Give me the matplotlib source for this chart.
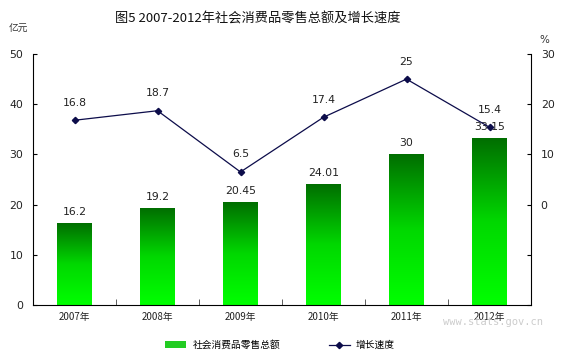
import matplotlib
matplotlib.use("Agg")
import matplotlib.pyplot as plt
import numpy as np
from matplotlib.colors import LinearSegmentedColormap
from matplotlib.lines import Line2D
from matplotlib.patches import Rectangle

plt.rcParams['font.family'] = ['Noto Sans CJK SC', 'DejaVu Sans']

years = ['2007年', '2008年', '2009年', '2010年', '2011年', '2012年']
sales = [16.2, 19.2, 20.45, 24.01, 30, 33.15]
sales_labels = ['16.2', '19.2', '20.45', '24.01', '30', '33.15']
growth = [16.8, 18.7, 6.5, 17.4, 25, 15.4]
growth_labels = ['16.8', '18.7', '6.5', '17.4', '25', '15.4']

W, H = 566, 363
fig = plt.figure(figsize=(W / 100, H / 100), dpi=100)
ax_l, ax_r, ax_t, ax_b = 33, 531, 54, 305
ax = fig.add_axes([ax_l / W, 1 - ax_b / H, (ax_r - ax_l) / W, (ax_b - ax_t) / H])

x = np.arange(len(years))
bw = 0.41
cmap = LinearSegmentedColormap.from_list('g', ['#00ff00', '#00d800', '#006e00'])
grad = np.linspace(0, 1, 256).reshape(-1, 1)
for xi, v, lab in zip(x, sales, sales_labels):
    ax.imshow(grad, extent=(xi - bw / 2, xi + bw / 2, 0, v), origin='lower',
              cmap=cmap, aspect='auto', zorder=2)
    ax.text(xi, v + 1.3, lab, ha='center', va='bottom', fontsize=7.8,
            family='DejaVu Sans', color='#222222')

ax.set_xlim(-0.5, len(years) - 0.5)
ax.set_ylim(0, 50)
ax.set_yticks([0, 10, 20, 30, 40, 50])
ax.set_xticks(x)
ax.set_xticklabels(years, fontsize=7, color='#222222')
ax.set_xticks(np.arange(0.5, len(years) - 0.5, 1), minor=True)
ax.tick_params(axis='x', which='major', length=0, pad=5)
ax.tick_params(axis='x', which='minor', length=4, direction='in', color='#444444')
ax.tick_params(axis='y', direction='in', length=3, labelsize=7.8, pad=7, labelcolor='#222222')
for lab in ax.get_yticklabels():
    lab.set_family('DejaVu Sans')
ax.spines['top'].set_visible(False)
ax.spines['right'].set_visible(False)

ax2 = ax.twinx()
ax2.set_ylim(-20, 30)
ax2.set_yticks([-20, -10, 0, 10, 20, 30])
ax2.set_yticklabels(['', '', '0', '10', '20', '30'])
ax2.tick_params(axis='y', direction='in', length=3, labelsize=7.8, pad=7, labelcolor='#222222')
for lab in ax2.get_yticklabels():
    lab.set_family('DejaVu Sans')
ax2.spines['top'].set_visible(False)
ax2.spines['left'].set_visible(False)
ax2.spines['bottom'].set_visible(False)
ax2.plot(x, growth, color='#0c0c4a', lw=0.9, marker='D', markersize=3.2, zorder=5)
for xi, v, lab in zip(x, growth, growth_labels):
    ax2.text(xi, v + 2.5, lab, ha='center', va='bottom', fontsize=7.8,
             family='DejaVu Sans', color='#222222')

fig.text(258 / W, 1 - 19 / H, '图5 2007-2012年社会消费品零售总额及增长速度', ha='center',
         va='center', fontsize=9.5, color='#111111')
fig.text(18 / W, 1 - 29 / H, '亿元', ha='center', va='center', fontsize=7, color='#333333')
fig.text(544 / W, 1 - 40 / H, '%', ha='center', va='center', fontsize=7.5, color='#333333',
         family='DejaVu Sans')
fig.text(443 / W, 1 - 322 / H, 'www.stats.gov.cn', ha='left', va='center', fontsize=7.5,
         color='#cccccc', family='DejaVu Sans Mono', zorder=0)

# legend
handles = [Rectangle((0, 0), 1, 1, facecolor='#22cc22', edgecolor='none'),
           Line2D([0], [0], color='#0c0c4a', lw=0.9, marker='D', markersize=3.2)]
fig.legend(handles, ['社会消费品零售总额', '增长速度'], loc='center',
           bbox_to_anchor=(280 / W, 1 - 345 / H), ncol=2, frameon=False,
           fontsize=7, handlelength=2.2, handleheight=0.6, handletextpad=0.6,
           columnspacing=5.0)

fig.savefig('out.png', dpi=100)
